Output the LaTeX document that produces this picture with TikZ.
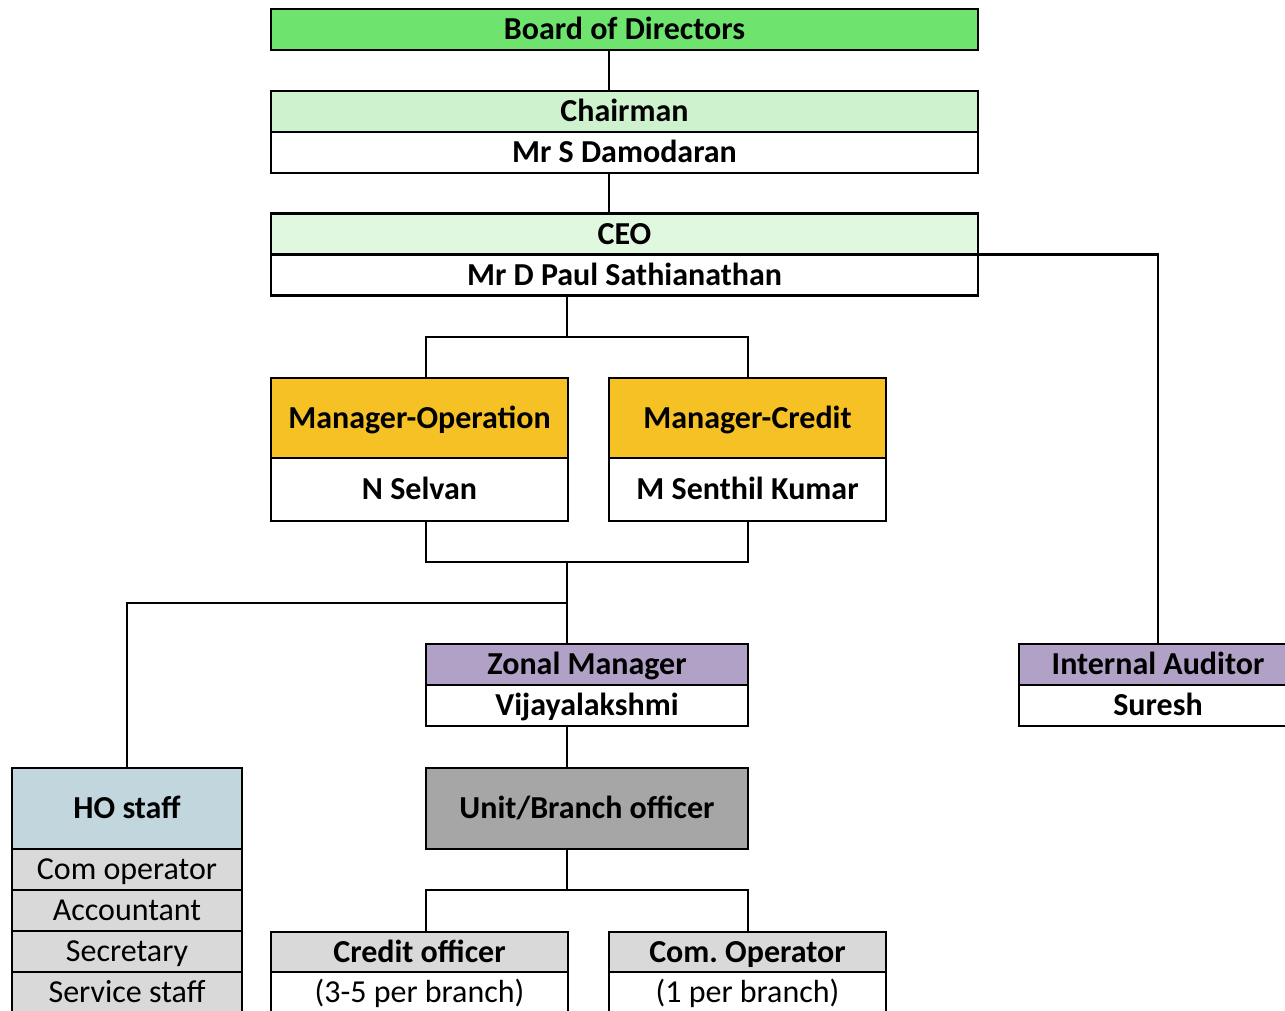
\documentclass[tikz,border=0pt]{standalone}
\usepackage{fontspec}
\setmainfont{Carlito}
\usetikzlibrary{positioning}
\definecolor{boardgreen}{RGB}{110,228,110}
\definecolor{chairgreen}{RGB}{206,242,206}
\definecolor{ceogreen}{RGB}{224,247,224}
\definecolor{mgrorange}{RGB}{246,193,36}
\definecolor{zonpurple}{RGB}{177,161,199}
\definecolor{hoblue}{RGB}{194,214,222}
\definecolor{unitgray}{RGB}{166,166,166}
\definecolor{rowgray}{RGB}{217,217,217}
\newcommand{\chartsize}{\fontsize{32}{38}\selectfont}
\frenchspacing

\begin{document}
\begin{tikzpicture}[x=1pt, y=-1pt,
  box/.style={draw, line width=2.8pt, outer sep=0pt, inner sep=0pt,
    minimum height=41pt, text height=20.5pt, text depth=0pt,
    font=\chartsize\bfseries},
  plainbox/.style={box, font=\chartsize},
  link/.style={line width=2.8pt}]

\useasboundingbox (0,0) rectangle (1285,1011);
\clip (0,0) rectangle (1285,1011);

% --- Vertici ---
\node[box, fill=boardgreen, minimum width=707pt] (board) at (624.5,29.5) {Board of Directors};
\node[box, fill=chairgreen, minimum width=707pt] (chairT) at (624.5,111.5) {Chairman};
\node[box, fill=white, minimum width=707pt, below=0pt of chairT] (chairN) {Mr S Damodaran};
\node[box, fill=ceogreen, minimum width=707pt] (ceoT) at (624.5,234) {CEO};
\node[box, fill=white, minimum width=707pt, below=0pt of ceoT] (ceoN) {Mr D Paul Sathianathan};

% --- Manager ---
\node[box, fill=mgrorange, minimum width=297pt, minimum height=80pt] (opT) at (419.5,418) {Manager-Operation};
\node[box, fill=white, minimum width=297pt, minimum height=63pt, below=0pt of opT] (opN) {N Selvan};
\node[box, fill=mgrorange, minimum width=277pt, minimum height=80pt] (crT) at (747.5,418) {Manager-Credit};
\node[box, fill=white, minimum width=277pt, minimum height=63pt, below=0pt of crT] (crN) {M Senthil Kumar};

% --- Zona e revisione ---
\node[box, fill=zonpurple, minimum width=322pt] (zonT) at (587,664.5) {Zonal Manager};
\node[box, fill=white, minimum width=322pt, below=0pt of zonT] (zonN) {Vijayalakshmi};
\node[box, fill=zonpurple, minimum width=278pt] (audT) at (1158,664.5) {Internal Auditor};
\node[box, fill=white, minimum width=278pt, below=0pt of audT] (audN) {Suresh};
\node[box, fill=unitgray, minimum width=322pt, minimum height=81pt] (unit) at (587,808.5) {Unit/Branch officer};

% --- Filiale ---
\node[box, fill=rowgray, minimum width=297pt, minimum height=40pt] (cofT) at (419.5,952) {Credit officer};
\node[plainbox, fill=white, minimum width=297pt, below=0pt of cofT] (cofN) {(3-5 per branch)};
\node[box, fill=rowgray, minimum width=277pt, minimum height=40pt] (comT) at (747.5,952) {Com. Operator};
\node[plainbox, fill=white, minimum width=277pt, below=0pt of comT] (comN) {(1 per branch)};

% --- HO staff ---
\node[box, fill=hoblue, minimum width=230pt, minimum height=81pt] (hoT) at (127,808.5) {HO staff};
\node[plainbox, fill=rowgray, minimum width=230pt, below=0pt of hoT] (ho1) {Com operator};
\node[plainbox, fill=rowgray, minimum width=230pt, below=0pt of ho1] (ho2) {Accountant};
\node[plainbox, fill=rowgray, minimum width=230pt, below=0pt of ho2] (ho3) {Secretary};
\node[plainbox, fill=rowgray, minimum width=230pt, below=0pt of ho3] (ho4) {Service staff};

% --- Collegamenti ---
\coordinate (spine) at (609,0);
\coordinate (leftx) at (426,0);
\coordinate (rightx) at (748,0);
\coordinate (fork1) at (567,337);
\coordinate (fork2) at (567,562);
\coordinate (fork3) at (567,603);
\coordinate (fork4) at (567,890);

\draw[link] (board.south -| spine) -- (chairT.north -| spine);
\draw[link] (chairN.south -| spine) -- (ceoT.north -| spine);
\draw[link] (ceoT.south east) -| (audT.north);
\draw[link] (ceoN.south -| fork1) -- (fork1);
\draw[link] (opT.north -| leftx) |- (fork1) -| (crT.north -| rightx);
\draw[link] (opN.south -| leftx) |- (fork2) -| (crN.south -| rightx);
\draw[link] (fork2) -- (zonT.north -| fork2);
\draw[link] (fork3) -| (hoT.north);
\draw[link] (zonN.south -| fork2) -- (unit.north -| fork2);
\draw[link] (unit.south -| fork4) -- (fork4);
\draw[link] (cofT.north -| leftx) |- (fork4) -| (comT.north -| rightx);

\end{tikzpicture}
\end{document}
